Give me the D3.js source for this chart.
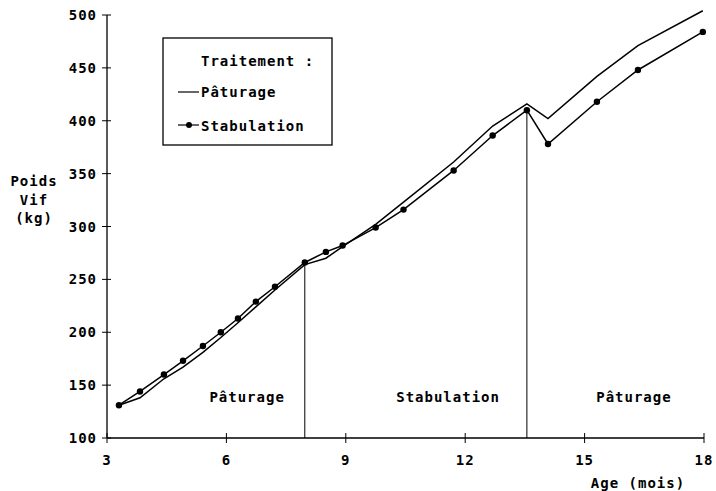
<!DOCTYPE html>
<html lang="fr">
<head>
<meta charset="UTF-8">
<title>Poids vif selon l'age</title>
<script src="https://d3js.org/d3.v7.min.js"></script>
<style>
  body { margin: 0; background: #fff; }
  text { font-family: "DejaVu Sans Mono", monospace; font-weight: bold; font-size: 14px; letter-spacing: 1px; fill: #000; }
</style>
</head>
<body>
<script>
// age (mois) of each weighing
const ages = [3.3, 3.83, 4.43, 4.91, 5.41, 5.86, 6.29, 6.74, 7.22, 7.97, 8.5, 8.92, 9.75, 10.45, 11.71, 12.69, 13.55, 14.08, 15.31, 16.34, 17.97];
// poids vif (kg)
const paturage =    [131, 138, 156, 167, 181, 195, 209, 224, 240, 264, 270, 281, 302, 323, 361, 395, 416, 402, 442, 471, 504];
const stabulation = [131, 144, 160, 173, 187, 200, 213, 229, 243, 266, 276, 282, 299, 316, 353, 386, 410, 378, 418, 448, 484];

const xTicks = [3, 6, 9, 12, 15, 18];
const yTicks = [100, 150, 200, 250, 300, 350, 400, 450, 500];

// period changes (mois) and treatment labels (label centre, mois)
const switches = [7.97, 13.55];
const periodLabels = ["Pâturage", "Stabulation", "Pâturage"];
const periodAt = [6.52, 11.57, 16.24];

const W = 716, H = 491;
const svg = d3.select("body").append("svg").attr("width", W).attr("height", H);

const x = d3.scaleLinear().domain([3, 18]).range([107, 704]);
const y = d3.scaleLinear().domain([100, 500]).range([438, 15]);

// axes drawn by hand with crossing ticks
svg.append("line").attr("x1", x(3)).attr("x2", x(3)).attr("y1", y(100)).attr("y2", y(500))
  .attr("stroke", "#000").attr("stroke-width", 1.3);
svg.append("line").attr("x1", x(3)).attr("x2", x(18)).attr("y1", y(100)).attr("y2", y(100))
  .attr("stroke", "#000").attr("stroke-width", 1.3);

svg.append("g").selectAll("line").data(yTicks).enter().append("line")
  .attr("x1", x(3) - 5).attr("x2", x(3) + 4)
  .attr("y1", d => y(d)).attr("y2", d => y(d))
  .attr("stroke", "#000");
svg.append("g").selectAll("text").data(yTicks).enter().append("text")
  .attr("x", x(3) - 10).attr("y", d => y(d) + 5)
  .attr("text-anchor", "end")
  .text(d => d);

svg.append("g").selectAll("line").data(xTicks).enter().append("line")
  .attr("x1", d => x(d)).attr("x2", d => x(d))
  .attr("y1", y(100) - 5).attr("y2", y(100) + 5)
  .attr("stroke", "#000");
svg.append("g").selectAll("text").data(xTicks).enter().append("text")
  .attr("x", d => x(d)).attr("y", y(100) + 27)
  .attr("text-anchor", "middle")
  .text(d => d);

// axis titles
svg.append("text").attr("x", 638).attr("y", 488).attr("text-anchor", "middle").text("Age (mois)");
const yTitle = svg.append("text").attr("text-anchor", "middle");
["Poids", "Vif", "(kg)"].forEach((t, i) => {
  yTitle.append("tspan").attr("x", 34).attr("y", 186 + i * 18.5).text(t);
});

// vertical lines where the treatment changes
svg.append("g").selectAll("line").data(switches).enter().append("line")
  .attr("x1", d => x(d)).attr("x2", d => x(d))
  .attr("y1", y(100))
  .attr("y2", d => y(stabulation[ages.indexOf(d)]))
  .attr("stroke", "#000").attr("stroke-width", 1);

svg.append("g").selectAll("text").data(periodLabels).enter().append("text")
  .attr("x", (d, i) => x(periodAt[i]))
  .attr("y", 402)
  .attr("text-anchor", "middle")
  .text(d => d);

// the two series
const line = d3.line().x(d => x(d[0])).y(d => y(d[1]));
const patPts = ages.map((a, i) => [a, paturage[i]]);
const stabPts = ages.map((a, i) => [a, stabulation[i]]);

svg.append("path").datum(patPts).attr("d", line)
  .attr("fill", "none").attr("stroke", "#000").attr("stroke-width", 1.5);
svg.append("path").datum(stabPts).attr("d", line)
  .attr("fill", "none").attr("stroke", "#000").attr("stroke-width", 1.5);
svg.append("g").selectAll("circle").data(stabPts).enter().append("circle")
  .attr("cx", d => x(d[0])).attr("cy", d => y(d[1])).attr("r", 3.2)
  .attr("fill", "#000");

// legend
const lg = svg.append("g");
lg.append("rect").attr("x", 163).attr("y", 38).attr("width", 169).attr("height", 107)
  .attr("fill", "#fff").attr("stroke", "#000").attr("stroke-width", 1.3);
lg.append("text").attr("x", 201).attr("y", 66).text("Traitement :");
lg.append("line").attr("x1", 178).attr("x2", 199).attr("y1", 92).attr("y2", 92)
  .attr("stroke", "#000").attr("stroke-width", 1.2);
lg.append("text").attr("x", 201).attr("y", 97).text("Pâturage");
lg.append("line").attr("x1", 178).attr("x2", 199).attr("y1", 125).attr("y2", 125)
  .attr("stroke", "#000").attr("stroke-width", 1.2);
lg.append("circle").attr("cx", 189).attr("cy", 125).attr("r", 3).attr("fill", "#000");
lg.append("text").attr("x", 201).attr("y", 131).text("Stabulation");
</script>
</body>
</html>
